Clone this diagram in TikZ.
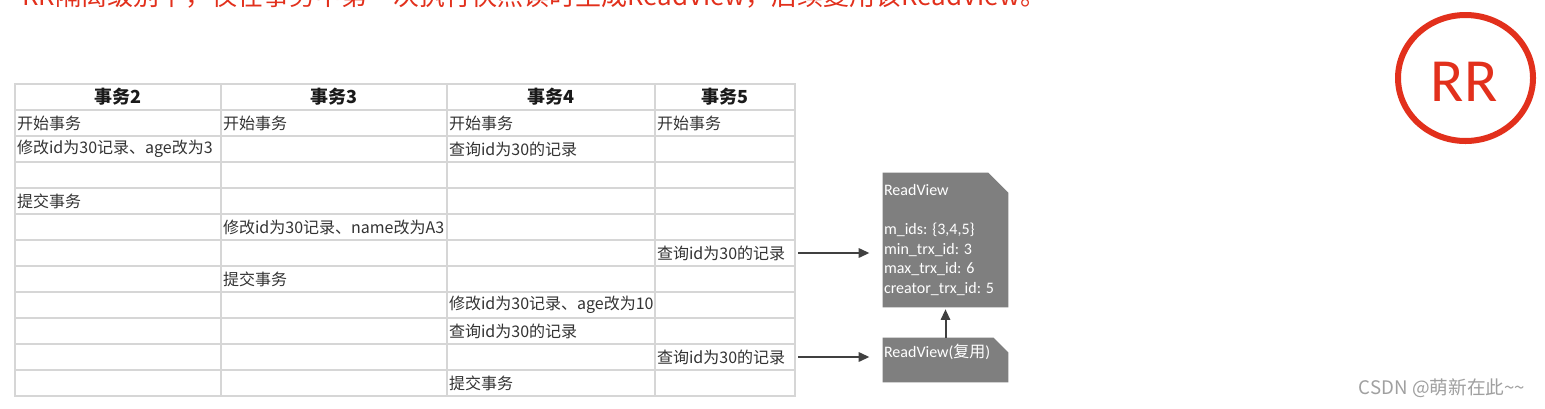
\documentclass[tikz,border=0pt]{standalone}
\usepackage{fontspec}
\setmainfont{Noto Sans CJK SC}
\newfontfamily\carl{Carlito}
\usetikzlibrary{arrows.meta}
\definecolor{gridc}{HTML}{D6D6D6}
\definecolor{txtc}{HTML}{333333}
\definecolor{headc}{HTML}{1A1A1A}
\definecolor{boxc}{HTML}{7F7F7F}
\definecolor{arrc}{HTML}{404040}
\definecolor{rrred}{HTML}{E2301C}
\definecolor{wmc}{HTML}{A0A0A0}
\tikzset{
  cell/.style={draw=gridc, line width=0.9pt, minimum height=19.5pt, inner sep=0pt},
  head/.style={font=\fontsize{13.5pt}{15pt}\selectfont\bfseries, text=headc, inner sep=0pt},
  txt/.style={anchor=west, xshift=1.8pt, inner sep=0pt, font=\fontsize{12pt}{14pt}\selectfont, text=txtc},
  rvbox/.style={inner sep=0pt, minimum width=93.75pt},
  rvtext/.style={font=\carl\fontsize{12pt}{14.7pt}\selectfont, text=white},
  conn/.style={draw=arrc, line width=1.5pt, -{Triangle[length=8pt,width=7pt]}},
}
\begin{document}
\begin{tikzpicture}[x=0.75pt,y=-0.75pt]
\clip (0,0) rectangle (1545,408);
\fill[white] (0,0) rectangle (1545,408);
% title (cut off at top)
\node[anchor=base west, inner sep=0pt, text=rrred, font=\fontsize{19.5pt}{22pt}\selectfont] (title) at (22,5) {RR隔离级别下，仅在事务中第一次执行快照读时生成ReadView，后续复用该ReadView。};
% grid cells
\foreach \c/\x/\w in {1/15/206, 2/221/226, 3/447/208, 4/655/140}{
  \foreach \r in {0,...,11}{
    \node[cell, minimum width=\w*0.75pt] (c\c-\r) at ({\x+\w/2},{97+26*\r}) {};
  }
}
% headers
\node[head] at (c1-0) {事务2};
\node[head] at (c2-0) {事务3};
\node[head] at (c3-0) {事务4};
\node[head] at (c4-0) {事务5};
% body
\node[txt] at (c1-1.west) {开始事务};
\node[txt] at (c2-1.west) {开始事务};
\node[txt] at (c3-1.west) {开始事务};
\node[txt] at (c4-1.west) {开始事务};
\node[txt] at (c1-2.west) {修改id为30记录、age改为3};
\node[txt] at (c3-2.west) {查询id为30的记录};
\node[txt] at (c1-4.west) {提交事务};
\node[txt] at (c2-5.west) {修改id为30记录、name改为A3};
\node[txt] at (c4-6.west) {查询id为30的记录};
\node[txt] at (c2-7.west) {提交事务};
\node[txt] at (c3-8.west) {修改id为30记录、age改为10};
\node[txt] at (c3-9.west) {查询id为30的记录};
\node[txt] at (c4-10.west) {查询id为30的记录};
\node[txt] at (c3-11.west) {提交事务};
% ReadView boxes
\node[rvbox, minimum height=100.5pt] (rv1) at (945.5,240) {};
\fill[boxc] (rv1.north west) -- ([xshift=-15pt]rv1.north east) -- ([yshift=-15pt]rv1.north east) -- (rv1.south east) -- (rv1.south west) -- cycle;
\node[rvtext, anchor=west, align=left, inner sep=0pt] (rv1t) at ([xshift=0.8pt]rv1.west) {ReadView\\\mbox{}\\m\_ids: \{3,4,5\}\\min\_trx\_id: 3\\max\_trx\_id: 6\\creator\_trx\_id: 5};
\node[rvbox, minimum height=33pt] (rv2) at (945.5,360) {};
\fill[boxc] (rv2.north west) -- ([xshift=-11pt]rv2.north east) -- ([yshift=-11pt]rv2.north east) -- (rv2.south east) -- (rv2.south west) -- cycle;
\node[rvtext, anchor=west, inner sep=0pt] (rv2t) at ([xshift=0.8pt,yshift=-10.5pt]rv2.north west) {ReadView({\normalfont 复用})};
% connectors
\draw[conn, shorten <=2pt, shorten >=10pt] (c4-6.east) -- (c4-6.east -| rv1.west);
\draw[conn, shorten <=2pt, shorten >=10pt] (c4-10.east) -- (c4-10.east -| rv2.west);
\draw[conn, shorten >=1.5pt] (rv2.north) -- (rv1.south);
% RR badge
\node[text=rrred, inner sep=0pt, font=\carl\fontsize{46pt}{50pt}\selectfont] (rr) at (1464,82) {RR};
\draw[rrred, line width=4.5pt] (1465.5,78) ellipse [x radius=67.5, y radius=63];
% watermark
\node[text=wmc, inner sep=0pt, font=\fontsize{14pt}{16pt}\selectfont] (wm) at (1442,388) {CSDN @萌新在此\string~\string~};
\end{tikzpicture}
\end{document}
